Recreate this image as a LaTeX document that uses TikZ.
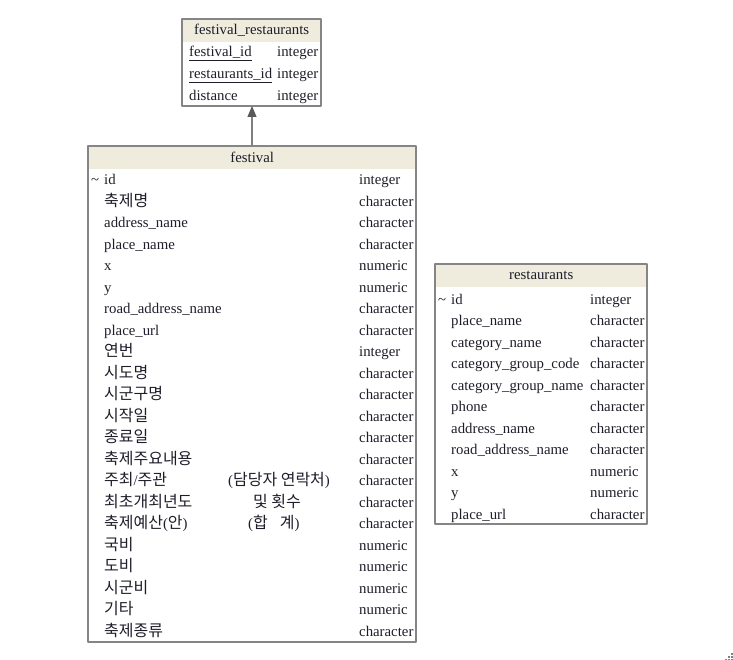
\documentclass[tikz,border=0pt]{standalone}
\usepackage{fontspec}
\setmainfont{Liberation Serif}
\newfontfamily\kor[Scale=1.08]{Noto Sans CJK KR}
\usetikzlibrary{arrows.meta}
\definecolor{hdrfill}{HTML}{EFEBDD}
\definecolor{boxline}{HTML}{858585}
\definecolor{txt}{HTML}{1E1E2A}
\tikzset{
  tblbox/.style={draw=boxline, line width=1.2pt, anchor=north west, inner sep=0pt, outer sep=0pt},
  hdr/.style={fill=hdrfill, anchor=north west, inner sep=0pt, text=txt, font=\fontsize{14.8}{17}\selectfont},
  fld/.style={anchor=base west, inner sep=0pt, text=txt, font=\fontsize{14.8}{17}\selectfont},
}
\begin{document}
\begin{tikzpicture}[x=1pt, y=-1pt, line join=round, >=Triangle]
    \useasboundingbox (0,0) rectangle (733,660);
    \def\rowh{21.48}
    % festival_restaurants
    \node[hdr, minimum width=139pt, minimum height=23pt] (frhead) at (182,19) {festival\_restaurants};
    \node[tblbox, minimum width=139pt, minimum height=87pt] (festrest) at (182,19) {};
    \node[fld] (fr-0) at (189,57) {\underline{festival\_id}};
    \node[fld] (fr-1) at (189,79) {\underline{restaurants\_id}};
    \node[fld] (fr-2) at (189,101) {distance};
    \foreach \i/\y in {0/57,1/79,2/101}\node[fld] (frt-\i) at (277,\y) {integer};
    % festival
    \node[hdr, minimum width=328pt, minimum height=23pt] (fehead) at (88,146) {festival};
    \node[tblbox, minimum width=328pt, minimum height=496pt] (festival) at (88,146) {};
    \node[fld] (fe-key) at (91,185) {\textasciitilde};
    \foreach \n/\t [count=\i from 0] in {id/integer, {{\kor 축제명}}/character, address\_name/character,
        place\_name/character, x/numeric, y/numeric, road\_address\_name/character, place\_url/character,
        {{\kor 연번}}/integer, {{\kor 시도명}}/character, {{\kor 시군구명}}/character, {{\kor 시작일}}/character,
        {{\kor 종료일}}/character, {{\kor 축제주요내용}}/character,
        {\makebox[124pt][l]{{\kor 주최}/{\kor 주관}}({\kor 담당자 연락처})}/character,
        {\makebox[149pt][l]{\kor 최초개최년도}{\kor 및 횟수}}/character,
        {\makebox[144pt][l]{{\kor 축제예산}({\kor 안})}({\kor 합}\hspace{12pt}{\kor 계})}/character,
        {{\kor 국비}}/numeric, {{\kor 도비}}/numeric, {{\kor 시군비}}/numeric, {{\kor 기타}}/numeric,
        {{\kor 축제종류}}/character}
    {
        \node[fld] (fe-\i) at (104,180+\rowh*\i+5) {\n};
        \node[fld] (fet-\i) at (359,180+\rowh*\i+5) {\t};
    }
    % restaurants
    \node[hdr, minimum width=212pt, minimum height=23pt] (rehead) at (435,264) {restaurants};
    \node[tblbox, minimum width=212pt, minimum height=260pt] (restaurants) at (435,264) {};
    \node[fld] (re-key) at (438,304) {\textasciitilde};
    \foreach \n/\t [count=\i from 0] in {id/integer, place\_name/character, category\_name/character,
        category\_group\_code/character, category\_group\_name/character, phone/character,
        address\_name/character, road\_address\_name/character, x/numeric, y/numeric, place\_url/character}
    {
        \node[fld] (re-\i) at (451,299+21.5*\i+5) {\n};
        \node[fld] (ret-\i) at (590,299+21.5*\i+5) {\t};
    }
    % link
    \draw[draw=gray, line width=1.2pt, arrows={-Triangle[length=11pt, width=9pt, color=black!65]}] (festival.north) -- (festival.north |- festrest.south);
    % resize grip
    \foreach \p in {(731,653),(728,656),(731,656),(725,659),(728,659),(731,659)}\fill[gray] \p rectangle ++(1.5,1.5);
\end{tikzpicture}
\end{document}
